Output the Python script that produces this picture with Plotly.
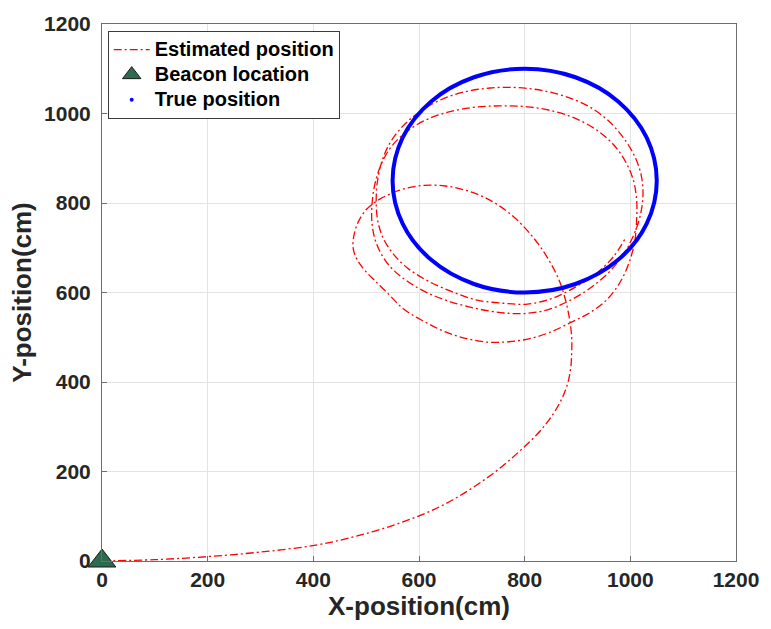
import plotly.graph_objects as go

# Estimated position (cm) (track from the beacon, then three loops)
est_x = [0, 100, 202, 300, 402, 480, 559, 630, 690, 745, 790, 825, 852, 870, 881, 887, 889,
         889, 885, 878, 866, 848, 826, 800, 770, 735, 695, 650, 605, 562, 525, 500, 484, 477,
         475, 479, 488, 500, 515, 537, 571, 610, 650, 690, 730, 770, 810, 850, 887, 925, 958,
         983, 1000, 1009, 1012, 1012, 1006, 992, 970, 940, 900, 855, 805, 755, 705, 655, 612,
         575, 547, 528, 516, 511, 511, 517, 530, 550, 578, 613, 655, 705, 755, 800, 845, 890,
         930, 965, 993, 1012, 1021, 1024, 1020, 1008, 988, 960, 924, 882, 835, 785, 735, 685,
         640, 600, 568, 544, 529, 521, 519, 522, 532, 550, 578, 615, 660, 710, 760, 805, 850,
         896, 935, 968, 990]
est_y = [0, 3, 10, 20, 35, 55, 83, 116, 155, 200, 245, 285, 325, 362, 395, 430, 465,
         500, 540, 580, 625, 668, 708, 745, 778, 806, 826, 838, 839, 828, 808, 785, 755, 728,
         703, 683, 664, 646, 628, 603, 563, 535, 512, 497, 489, 490, 497, 512, 533, 556, 587,
         628, 675, 720, 765, 806, 850, 890, 928, 960, 987, 1005, 1015, 1017, 1014, 1003, 985,
         958, 925, 885, 840, 795, 755, 718, 683, 652, 625, 601, 581, 565, 555, 553, 562, 585,
         615, 652, 697, 745, 785, 825, 865, 905, 944, 982, 1014, 1036, 1051, 1058, 1057, 1048,
         1030, 1003, 970, 932, 890, 845, 800, 760, 722, 688, 655, 627, 603, 583, 576, 574, 586,
         612, 642, 680, 720]

# True position (cm)
true_x = [1050, 1031, 977, 896, 800, 704, 623, 569, 550, 569, 623, 704, 800, 896, 977, 1031, 1050]
true_y = [850, 946, 1027, 1081, 1100, 1081, 1027, 946, 850, 754, 673, 619, 600, 619, 673, 754, 850]

# Beacon location (cm)
beacon_x = [0]
beacon_y = [0]

ticks = [0, 200, 400, 600, 800, 1000, 1200]

FONT = "Liberation Sans, Arial, sans-serif"

def big(t):
    return f'<span style="font-size:20px">{t}</span>'

fig = go.Figure()
fig.add_trace(go.Scatter(
    x=est_x, y=est_y, mode="lines", name=big("Estimated position"),
    line=dict(color="#ff0000", width=1.3, dash="8px,3px,2px,3px", shape="spline",
              smoothing=1.0, simplify=False),
))
fig.add_trace(go.Scatter(
    x=beacon_x, y=beacon_y, mode="markers", name=big("Beacon location"),
    marker=dict(symbol="triangle-up", size=24, color="#2e6b4e", line=dict(color="#1a1a1a", width=1)),
    cliponaxis=False,
))
fig.add_trace(go.Scatter(
    x=true_x, y=true_y, mode="lines", showlegend=False,
    line=dict(color="#0000ff", width=4, shape="spline", smoothing=1.0, simplify=False),
))
fig.add_trace(go.Scatter(
    x=[None], y=[None], mode="markers", name=big("True position"),
    marker=dict(symbol="circle", size=4, color="#0000ff"),
))

axis_common = dict(
    range=[0, 1200], tickvals=ticks, ticktext=[str(t) for t in ticks],
    showgrid=True, gridcolor="#e3e3e3", gridwidth=1,
    showline=True, linecolor="#6e6e6e", linewidth=1, mirror=True,
    ticks="inside", ticklen=5, tickcolor="#6e6e6e",
    zeroline=False,
    tickfont=dict(family=FONT, size=21, color="#262626", weight="bold"),
)

fig.update_layout(
    width=771, height=629,
    margin=dict(l=102, r=29, t=19, b=68),
    paper_bgcolor="white", plot_bgcolor="white",
    font=dict(family=FONT, color="#262626"),
    xaxis=dict(axis_common, title=dict(text="X-position(cm)",
               font=dict(family=FONT, size=26, color="#262626", weight="bold"), standoff=4)),
    yaxis=dict(axis_common, ticklabelstandoff=6, title=dict(text="Y-position(cm)",
               font=dict(family=FONT, size=26, color="#262626", weight="bold"), standoff=4)),
    legend=dict(
        x=0.009, y=0.987, xanchor="left", yanchor="top",
        bgcolor="white", bordercolor="#3a3a3a", borderwidth=1,
        font=dict(family=FONT, size=17, color="#000000", weight="bold"),
        itemwidth=36, tracegroupgap=0,
    ),
)

fig.write_html("out.html")
